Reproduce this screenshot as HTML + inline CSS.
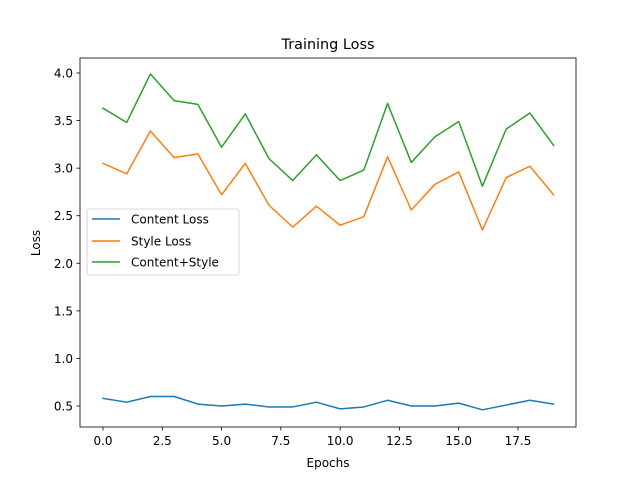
<!DOCTYPE html>
<html><head><meta charset="utf-8"><style>
body{margin:0;background:#fff;}
svg{display:block;font-family:"DejaVu Sans","Liberation Sans",sans-serif;}
</style></head><body>
<svg id="chart" width="640" height="480" viewBox="0 0 640 480">
<rect width="640" height="480" fill="#fff"/>
<text x="328" y="49" font-size="14.4" text-anchor="middle">Training Loss</text>
<g id="plot"></g>
<rect x="80" y="58" width="496" height="369" fill="none" stroke="#000" stroke-width="0.8"/>
<text x="328" y="467" font-size="12" text-anchor="middle">Epochs</text>
<text x="0" y="0" font-size="12" text-anchor="middle" transform="translate(40,243) rotate(-90)">Loss</text>
<g>
<rect x="87" y="209" width="152" height="66" rx="2" fill="#fff" fill-opacity="0.8" stroke="#ccc" stroke-width="0.8"/>
<line x1="92" y1="219" x2="120" y2="219" stroke="#1f77b4" stroke-width="1.5"/>
<text x="131" y="223.5" font-size="12">Content Loss</text>
<line x1="92" y1="241" x2="120" y2="241" stroke="#ff7f0e" stroke-width="1.5"/>
<text x="131" y="245.5" font-size="12">Style Loss</text>
<line x1="92" y1="262" x2="120" y2="262" stroke="#2ca02c" stroke-width="1.5"/>
<text x="131" y="266.5" font-size="12">Content+Style</text>
</g>
</svg>
<script>
const epochs=[0,1,2,3,4,5,6,7,8,9,10,11,12,13,14,15,16,17,18,19];
const contentLoss=[0.58,0.54,0.60,0.60,0.52,0.50,0.52,0.49,0.49,0.54,0.47,0.49,0.56,0.50,0.50,0.53,0.46,0.51,0.56,0.52];
const styleLoss=[3.05,2.94,3.39,3.11,3.15,2.72,3.05,2.61,2.38,2.60,2.40,2.49,3.12,2.56,2.83,2.96,2.35,2.90,3.02,2.72];
const totalLoss=[3.63,3.48,3.99,3.71,3.67,3.22,3.57,3.10,2.87,3.14,2.87,2.98,3.68,3.06,3.33,3.49,2.81,3.41,3.58,3.24];
const xTicks=[0,2.5,5,7.5,10,12.5,15,17.5];
const xTickLabels=["0.0","2.5","5.0","7.5","10.0","12.5","15.0","17.5"];
const yTicks=[0.5,1.0,1.5,2.0,2.5,3.0,3.5,4.0];
const yTickLabels=["0.5","1.0","1.5","2.0","2.5","3.0","3.5","4.0"];

const NS="http://www.w3.org/2000/svg";
const g=document.getElementById('plot');
function xs(v){return 103+v*(518-103)/17.5;}
function ys(v){return 406-(v-0.5)*(406-73)/3.5;}
function mk(tag,attrs){const e=document.createElementNS(NS,tag);for(const k in attrs)e.setAttribute(k,attrs[k]);g.appendChild(e);return e;}
xTicks.forEach((t,i)=>{
  const l=mk('line',{x1:xs(t),x2:xs(t),y1:427,y2:430.5,stroke:'#000','stroke-width':0.8});
  
  
  const tx=mk('text',{x:xs(t),y:445,'font-size':12,'text-anchor':'middle'});
  tx.textContent=xTickLabels[i];
  
  
});
yTicks.forEach((t,i)=>{
  const l=mk('line',{x1:76.5,x2:80,y1:ys(t),y2:ys(t),stroke:'#000','stroke-width':0.8});
  
  
  const tx=mk('text',{x:73,y:ys(t)+4.5,'font-size':12,'text-anchor':'end'});
  tx.textContent=yTickLabels[i];
  
  
});
function line(data,color,name){
  const p=mk('polyline',{points:data.map((v,i)=>xs(epochs[i])+','+ys(v)).join(' '),fill:'none',stroke:color,'stroke-width':1.5,'stroke-linejoin':'round','stroke-linecap':'square'});
  
  
}
line(contentLoss,'#1f77b4','content-loss-line');
line(styleLoss,'#ff7f0e','style-loss-line');
line(totalLoss,'#2ca02c','content-style-line');
</script>
</body></html>
